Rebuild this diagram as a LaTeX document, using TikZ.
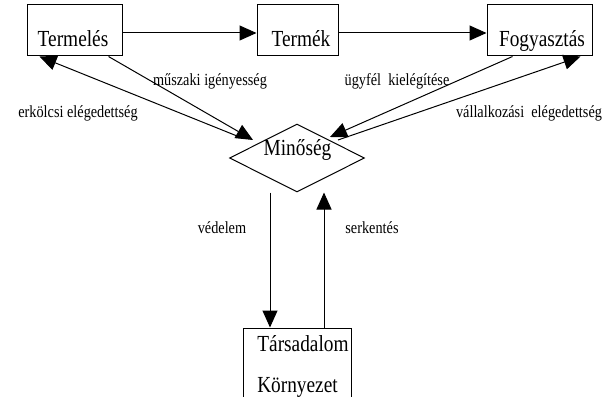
\documentclass[tikz,border=0pt]{standalone}
\usepackage{fontspec}
\setmainfont{Liberation Serif}
\usetikzlibrary{shapes.geometric,arrows.meta}
\newcommand{\narrowtxt}[1]{\scalebox{0.84}[1]{#1}}
\begin{document}
\begin{tikzpicture}[x=1pt,y=-1pt,
  box/.style={draw,line width=1pt,rectangle,inner sep=0pt},
  big/.style={anchor=base,inner sep=0pt,font=\fontsize{23}{25}\selectfont},
  lbl/.style={anchor=base,inner sep=0pt,font=\fontsize{17}{19}\selectfont},
  conn/.style={line width=1pt,-{Triangle[length=17pt,width=15pt]}}]
\useasboundingbox (0,0) rectangle (615,396);
\clip (0,0) rectangle (615,396);
% boxes
\node[box,minimum width=95pt,minimum height=51pt] (T) at (74.5,30.5) {};
\node[box,minimum width=81pt,minimum height=51pt] (K) at (297.5,30.5) {};
\node[box,minimum width=105pt,minimum height=51pt] (F) at (539.5,30.5) {};
\node[draw,line width=1pt,diamond,inner sep=0pt,shape aspect=1.985,minimum width=135pt,minimum height=68pt] (M) at (297,158) {};
\node[box,minimum width=108pt,minimum height=100pt] (S) at (297,378) {};
% texts
\node[big] (tT) at (73,47) {\narrowtxt{Termelés}};
\node[big] (tK) at (301,47) {\narrowtxt{Termék}};
\node[big] (tF) at (542,47) {\narrowtxt{Fogyasztás}};
\node[big] (tM) at (297.5,155) {\narrowtxt{Minőség}};
\node[big] (tS1) at (303,351) {\narrowtxt{Társadalom}};
\node[big] (tS2) at (297.5,392) {\narrowtxt{Környezet}};
% labels
\node[lbl] (l1) at (210,85) {\narrowtxt{műszaki igényesség}};
\node[lbl] (l2) at (78,117) {\narrowtxt{erkölcsi elégedettség}};
\node[lbl] (l3) at (397,85) {\narrowtxt{ügyfél\ \ kielégítése}};
\node[lbl] (l4) at (529,117) {\narrowtxt{vállalkozási\ \ elégedettség}};
\node[lbl] (l5) at (222,233) {\narrowtxt{védelem}};
\node[lbl] (l6) at (372,233) {\narrowtxt{serkentés}};
% connectors
\draw[conn] ([yshift=-2.5pt]T.east) -- ([yshift=-2.5pt]K.west);
\draw[conn] ([yshift=-2.5pt]K.east) -- ([yshift=-2.5pt]F.west);
\draw[conn] ([xshift=-14pt]T.south east) -- ([xshift=-44pt,yshift=18pt]M.center);
\draw[conn] ([xshift=-55pt,yshift=20pt]M.center) -- ([xshift=13pt]T.south west);
\draw[conn] ([xshift=26pt]F.south west) -- ([xshift=33pt,yshift=21pt]M.center);
\draw[conn] ([xshift=41pt,yshift=18pt]M.center) -- ([xshift=-12pt]F.south east);
\draw[conn] ([xshift=-27pt]M.south) -- ([xshift=-27pt]S.north);
\draw[conn] ([xshift=27pt]S.north) -- ([xshift=27pt]M.south);
\end{tikzpicture}
\end{document}
